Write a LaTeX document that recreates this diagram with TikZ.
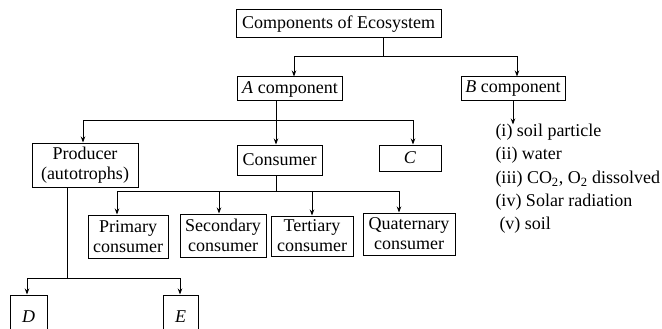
\documentclass[tikz,border=0pt]{standalone}
\usepackage{fontspec}
\setmainfont{Liberation Serif}
\usepackage{tikz}
\usetikzlibrary{arrows.meta}

\begin{document}
\begin{tikzpicture}
	[x=1pt, y=-1pt, line width=1pt, >={Stealth[length=6pt,width=4.5pt]},
	 font=\fontsize{18}{20}\selectfont,
	 box/.style={draw, inner sep=2pt, align=center},
	 item/.style={anchor=base west, inner sep=2pt}]
   \useasboundingbox (0,0) rectangle (662,329);
   \clip (0,0) rectangle (662,329);
   % boxes
   \node[box, minimum width=205, minimum height=28] (comp) at (338.5,24) {Components of Ecosystem};
   \node[box, minimum width=105, minimum height=24] (comp_a) at (290,89) {\textit{A} component};
   \node[box, minimum width=104, minimum height=24] (comp_b) at (513,89) {\textit{B} component};
   \node[box, minimum width=106, minimum height=44] (prod) at (85,165) {Producer\\(autotrophs)};
   \node[box, minimum width=85, minimum height=30] (cons) at (279.5,160) {Consumer};
   \node[box, minimum width=62, minimum height=26] (comp_c) at (410,158) {\textit{C}};
   \node[box, minimum width=80, minimum height=43] (cons_1) at (128,236.5) {Primary\\consumer};
   \node[box, minimum width=86, minimum height=43] (cons_2) at (223,235.5) {Secondary\\consumer};
   \node[box, minimum width=82, minimum height=40] (cons_3) at (312,236) {Tertiary\\consumer};
   \node[box, minimum width=92, minimum height=42] (cons_4) at (409,234) {Quaternary\\consumer};
   \node[box, minimum width=37, minimum height=44] (prod_d) at (28.5,317) {\textit{D}};
   \node[box, minimum width=35, minimum height=44] (prod_e) at (180.5,317) {\textit{E}};
   % abiotic list
   \node[item] (item_1) at (493,136.5) {(i) soil particle};
   \node[item] (item_2) at (493,159.5) {(ii) water};
   \node[item] (item_3) at (493,183.5) {(iii) CO\textsubscript{2}, O\textsubscript{2} dissolved};
   \node[item] (item_4) at (493,206.5) {(iv) Solar radiation};
   \node[item] (item_5) at (497,229.5) {(v) soil};
   % junctions
   \coordinate (j_1) at (383,57);
   \coordinate (j_2) at (276,121);
   \coordinate (j_3) at (276,191);
   \coordinate (j_4) at (67,278);
   % connectors
   \draw (comp.south -| j_1) -- (j_1);
   \draw[->] (j_1) -| ([xshift=4pt]comp_a.north);
   \draw[->] (j_1) -| ([xshift=4pt]comp_b.north);
   \draw[->] (comp_b.south) -- ([yshift=-3pt]comp_b.south |- item_1.north);
   \draw (comp_a.south -| j_2) -- (j_2);
   \draw[->] (j_2) -| ([xshift=-2pt]prod.north);
   \draw[->] (j_2) -- (cons.north -| j_2);
   \draw[->] (j_2) -| ([xshift=3pt]comp_c.north);
   \draw (cons.south -| j_3) -- (j_3);
   \draw[->] (j_3) -| ([xshift=-11pt]cons_1.north);
   \draw[->] (j_3) -| ([xshift=-4pt]cons_2.north);
   \draw[->] (j_3) -| (cons_3.north);
   \draw[->] (j_3) -| ([xshift=-10pt]cons_4.north);
   \draw (prod.south -| j_4) -- (j_4);
   \draw[->] (j_4) -| ([xshift=-1.5pt]prod_d.north);
   \draw[->] (j_4) -| ([xshift=-0.5pt]prod_e.north);
\end{tikzpicture}
\end{document}
